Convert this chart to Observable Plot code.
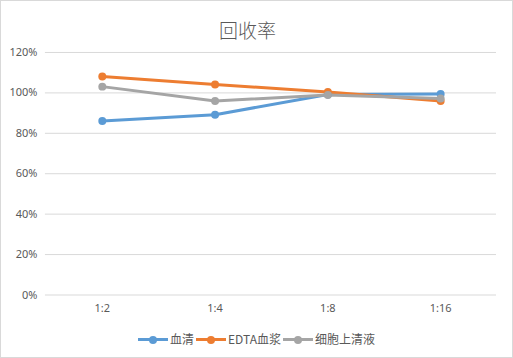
<!DOCTYPE html>
<html><head><meta charset="utf-8">
<script src="https://cdn.jsdelivr.net/npm/d3@7"></script>
<script src="https://cdn.jsdelivr.net/npm/@observablehq/plot@0.6"></script>
<style>
body{margin:0;background:#fff;}
#chart{position:absolute;left:0;top:0;width:511px;height:356px;border:1px solid #d9d9d9;background:#fff;overflow:hidden;font-family:"Noto Sans CJK SC","Noto Sans",sans-serif;color:#595959;}
#title{position:absolute;left:-9px;width:100%;top:17px;text-align:center;font-size:19px;line-height:24px;color:#595959;font-weight:300;}
#plot{position:absolute;left:-1px;top:38px;}
#legend{position:absolute;left:0;width:100%;top:329px;display:flex;justify-content:center;font-size:12px;line-height:18px;}
.item{display:flex;align-items:center;margin:0 1px;}
.sw{position:relative;width:30px;height:18px;margin-right:2px;}
.sw .ln{position:absolute;left:0;right:0;top:8px;height:3px;}
.sw .dt{position:absolute;left:11px;top:5.5px;width:8px;height:8px;border-radius:50%;}
</style></head>
<body>
<div id="chart"><div id="title">回收率</div><div id="plot"></div><div id="legend"></div></div>
<script>
const categories = ["1:2","1:4","1:8","1:16"];
const seriesNames = ["血清","EDTA血浆","细胞上清液"];
const serum = [0.861, 0.892, 0.992, 0.994];
const edta = [1.081, 1.042, 1.004, 0.960];
const cellSup = [1.031, 0.960, 0.990, 0.972];
const colors = ["#5b9bd5","#ed7d31","#a5a5a5"];
const yTicks = [0,0.2,0.4,0.6,0.8,1.0,1.2];

const allSeries = [serum, edta, cellSup];
const data = [];
allSeries.forEach((vals, s) => vals.forEach((v, i) => data.push({cat: categories[i], v, s: seriesNames[s]})));

const plot = Plot.plot({
  width: 513, height: 282,
  marginLeft: 45, marginRight: 16, marginTop: 13, marginBottom: 26,
  style: {fontFamily: "'Noto Sans', sans-serif", fontSize: "11px", color: "#595959", background: "transparent"},
  x: {type: "point", domain: categories, padding: 0.5, label: null},
  y: {domain: [0, 1.2], ticks: yTicks, label: null, tickFormat: d => Math.round(d*100) + "%"},
  color: {domain: seriesNames, range: colors},
  marks: [
    Plot.gridY(yTicks, {stroke: "#d9d9d9", strokeOpacity: 1, strokeWidth: 1}),
    Plot.axisY({ticks: yTicks, tickSize: 0, tickPadding: 8, tickFormat: d => Math.round(d*100) + "%", fill: "#595959", fontSize: 11}),
    Plot.axisX({tickSize: 0, tickPadding: 9, fill: "#595959", fontSize: 11}),
    Plot.line(data, {x: "cat", y: "v", z: "s", stroke: "s", strokeWidth: 3, strokeLinecap: "round"}),
    Plot.dot(data, {x: "cat", y: "v", fill: "s", r: 4})
  ]
});
document.getElementById("plot").appendChild(plot);

const legend = document.getElementById("legend");
seriesNames.forEach((n, i) => {
  const it = document.createElement("div"); it.className = "item";
  it.innerHTML = `<div class="sw"><div class="ln" style="background:${colors[i]}"></div><div class="dt" style="background:${colors[i]}"></div></div><span>${n}</span>`;
  legend.appendChild(it);
});
</script>
</body></html>
